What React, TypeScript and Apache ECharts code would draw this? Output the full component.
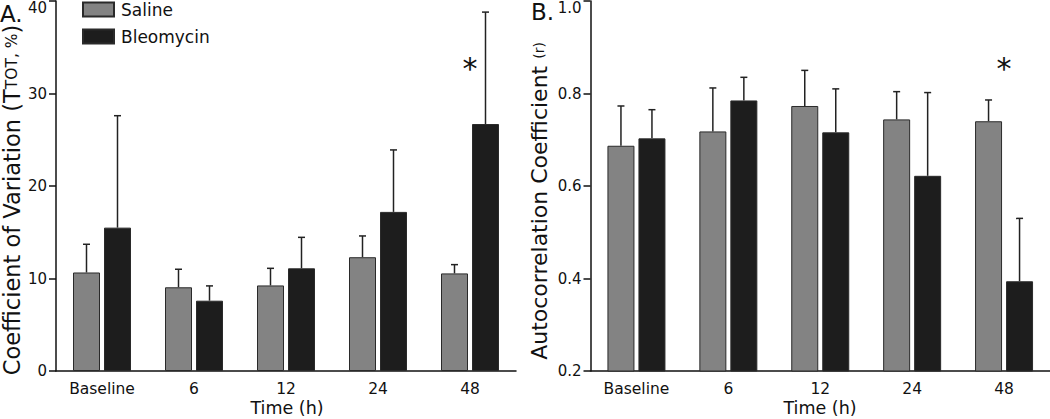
import React, { useEffect, useRef } from "react";
import * as echarts from "echarts";

const categories = ["Baseline", "6", "12", "24", "48"];
const xTitle = "Time (h)";

// Panel A: Coefficient of Variation (TTOT, %)
const salineCV = [10.65, 9.05, 9.25, 12.3, 10.55];
const salineCVUpper = [13.7, 11.0, 11.1, 14.6, 11.5];
const bleoCV = [15.5, 7.6, 11.1, 17.2, 26.7];
const bleoCVUpper = [27.6, 9.2, 14.45, 23.9, 38.8];
const starA = [["48", 32.7]];

// Panel B: Autocorrelation Coefficient (r)
const salineAC = [0.687, 0.718, 0.773, 0.744, 0.74];
const salineACUpper = [0.773, 0.812, 0.85, 0.804, 0.786];
const bleoAC = [0.703, 0.785, 0.716, 0.622, 0.394];
const bleoACUpper = [0.765, 0.835, 0.81, 0.802, 0.53];
const starB = [["48", 0.855]];

const yTicksA = { min: 0, max: 40, interval: 10 };
const yTicksB = { min: 0.2, max: 1.0, interval: 0.2 };

const FONT = "DejaVu Sans";
const SALINE = "#838383";
const BLEO = "#1d1d1d";
const BAR_W = 27;
const BAR_GAP_PX = 4;

function errorSeries(name: string, vals: number[], upper: number[], axisIndex: number, side: number) {
  return {
    type: "custom",
    name: name + "-err",
    xAxisIndex: axisIndex,
    yAxisIndex: axisIndex,
    z: 1,
    silent: true,
    data: vals.map((v, i) => [i, v, upper[i]]),
    renderItem: (params: any, api: any) => {
      const idx = api.value(0);
      const base = api.coord([idx, api.value(1)]);
      const top = api.coord([idx, api.value(2)]);
      const x = base[0] + side * (BAR_W / 2 + BAR_GAP_PX / 2);
      const st = { stroke: "#222", lineWidth: 1.5 };
      return {
        type: "group",
        children: [
          { type: "line", shape: { x1: x, y1: base[1], x2: x, y2: top[1] }, style: st },
          { type: "line", shape: { x1: x - 3.5, y1: top[1], x2: x + 3.5, y2: top[1] }, style: st },
        ],
      };
    },
  };
}

function starSeries(data: any[], axisIndex: number) {
  return {
    type: "custom",
    xAxisIndex: axisIndex,
    yAxisIndex: axisIndex,
    silent: true,
    data: data,
    renderItem: (params: any, api: any) => {
      const p = api.coord([api.value(0), api.value(1)]);
      return {
        type: "text",
        x: p[0],
        y: p[1],
        style: {
          text: "*",
          fontSize: 30,
          fontFamily: FONT,
          fill: "#111",
          align: "center",
          verticalAlign: "middle",
        },
      };
    },
  };
}

function barSeries(name: string, vals: number[], color: string, axisIndex: number) {
  return {
    type: "bar",
    name,
    xAxisIndex: axisIndex,
    yAxisIndex: axisIndex,
    data: vals,
    barWidth: BAR_W,
    barGap: (BAR_GAP_PX / BAR_W) * 100 + "%",
    z: 2,
    itemStyle: { color, borderColor: "#2a2a2a", borderWidth: 1 },
  };
}

export default function App() {
  const ref = useRef<HTMLDivElement>(null);
  useEffect(() => {
    if (!ref.current) return;
    const chart = echarts.init(ref.current, null, { renderer: "svg" });
    const axisLine = { show: true, lineStyle: { color: "#111", width: 1.5 } };
    const xAxisCommon = {
      type: "category",
      data: categories,
      axisLine,
      axisTick: { show: false },
      axisLabel: { color: "#111", fontSize: 15.5, fontFamily: FONT, margin: 10 },
    };
    const yAxisCommon = {
      type: "value",
      axisLine,
      axisTick: { show: true, length: 7, lineStyle: { color: "#111", width: 1.5 } },
      splitLine: { show: false },
    };
    const topLabelRich = { t: { fontSize: 15, fontFamily: FONT, color: "#111", padding: [13, 0, 0, 0] } };
    const xTitleStyle = {
      text: xTitle,
      fontSize: 17.5,
      fontFamily: FONT,
      fill: "#111",
      align: "center",
      verticalAlign: "middle",
    };
    chart.setOption({
      animation: false,
      grid: [
        { left: 56, right: 534, top: 1, bottom: 48, outerBoundsMode: "none", containLabel: false },
        { left: 590.5, right: 0, top: 1, bottom: 48, outerBoundsMode: "none", containLabel: false },
      ],
      legend: {
        left: 82,
        top: 1,
        orient: "vertical",
        itemWidth: 31,
        itemHeight: 14,
        itemGap: 10,
        data: ["Saline", "Bleomycin"],
        textStyle: { color: "#111", fontSize: 17, fontFamily: FONT, padding: [0, 0, 0, 2] },
        icon: "rect",
        padding: 0,
      },
      xAxis: [
        { ...xAxisCommon, gridIndex: 0 },
        { ...xAxisCommon, gridIndex: 1 },
      ],
      yAxis: [
        {
          ...yAxisCommon,
          gridIndex: 0,
          ...yTicksA,
          axisLabel: {
            color: "#111",
            fontSize: 15,
            fontFamily: FONT,
            margin: 9,
            formatter: (v: number) => (v === yTicksA.max ? "{t|" + v + "}" : String(v)),
            rich: topLabelRich,
          },
        },
        {
          ...yAxisCommon,
          gridIndex: 1,
          ...yTicksB,
          axisLabel: {
            color: "#111",
            fontSize: 15,
            fontFamily: FONT,
            margin: 9,
            formatter: (v: number) =>
              Math.abs(v - yTicksB.max) < 1e-9 ? "{t|" + v.toFixed(1) + "}" : v.toFixed(1),
            rich: topLabelRich,
          },
        },
      ],
      graphic: [
        {
          type: "text",
          x: 0,
          y: 2,
          style: { text: "A.", fontSize: 23, fontFamily: FONT, fill: "#111" },
        },
        {
          type: "text",
          x: 531,
          y: 0,
          style: { text: "B.", fontSize: 23, fontFamily: FONT, fill: "#111" },
        },
        { type: "text", x: 287, y: 407.5, style: xTitleStyle },
        { type: "text", x: 820, y: 407.5, style: xTitleStyle },
        {
          type: "text",
          x: 12,
          y: 200,
          rotation: Math.PI / 2,
          style: {
            text: "{a|Coefficient of Variation (T}{b|TOT, %}{a|)}",
            align: "center",
            verticalAlign: "middle",
            fill: "#111",
            rich: {
              a: { fontSize: 22.5, fontFamily: FONT, fill: "#111" },
              b: { fontSize: 15.5, fontFamily: FONT, fill: "#111" },
            },
          },
        },
        {
          type: "text",
          x: 539,
          y: 201,
          rotation: Math.PI / 2,
          style: {
            text: "{a|Autocorrelation Coefficient }{b|(r)}",
            align: "center",
            verticalAlign: "middle",
            fill: "#111",
            rich: {
              a: { fontSize: 22, fontFamily: FONT, fill: "#111" },
              b: { fontSize: 14, fontFamily: FONT, fill: "#111" },
            },
          },
        },
      ],
      series: [
        barSeries("Saline", salineCV, SALINE, 0),
        barSeries("Bleomycin", bleoCV, BLEO, 0),
        errorSeries("Saline", salineCV, salineCVUpper, 0, -1),
        errorSeries("Bleomycin", bleoCV, bleoCVUpper, 0, 1),
        starSeries(starA, 0),
        barSeries("Saline", salineAC, SALINE, 1),
        barSeries("Bleomycin", bleoAC, BLEO, 1),
        errorSeries("Saline", salineAC, salineACUpper, 1, -1),
        errorSeries("Bleomycin", bleoAC, bleoACUpper, 1, 1),
        starSeries(starB, 1),
      ],
    });
    return () => chart.dispose();
  }, []);
  return (
    <div
      ref={ref}
      style={{ position: "fixed", left: 0, top: 0, width: 1050, height: 419, background: "#fff" }}
    />
  );
}
